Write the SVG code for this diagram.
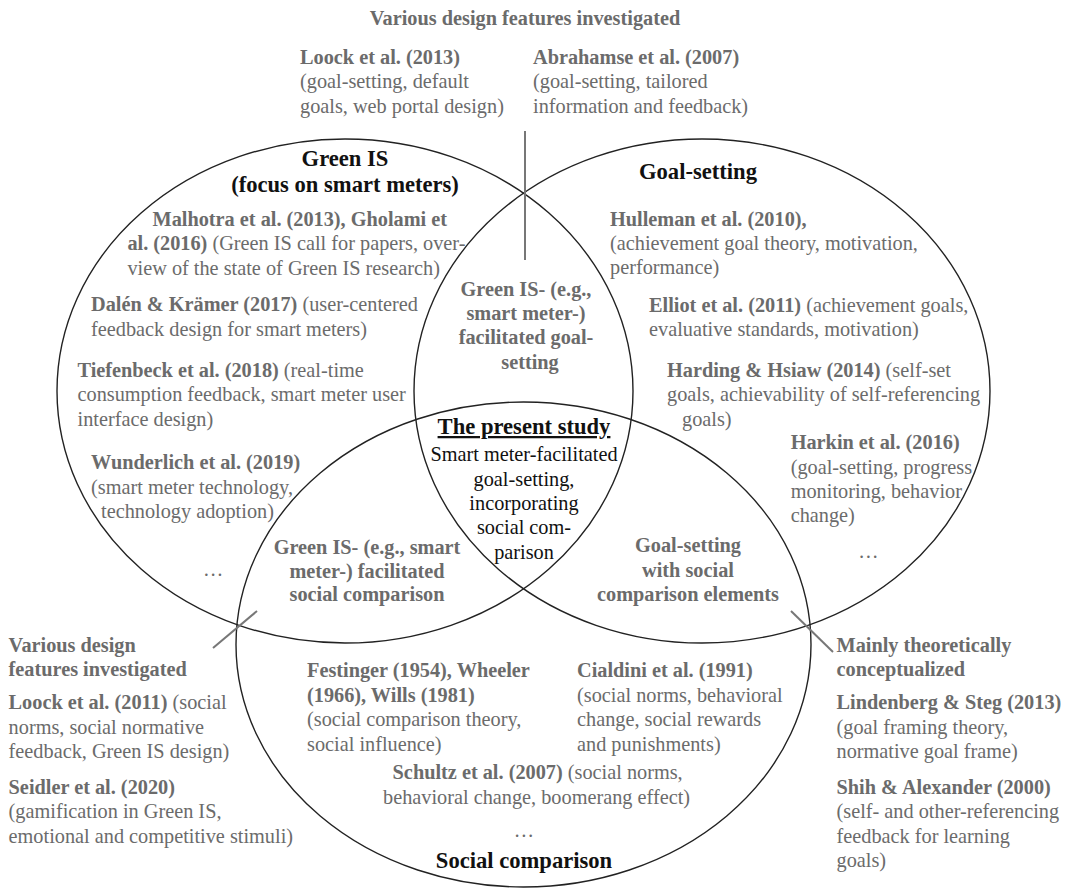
<svg xmlns="http://www.w3.org/2000/svg" width="1073" height="889" viewBox="0 0 1073 889">
<style>
text{font-family:"Liberation Serif","Times New Roman",serif;font-size:20.3px;fill:#6b6b6b}
.b{font-weight:bold}
.head{font-size:22.6px;font-weight:bold;fill:#111}
.blk{fill:#111}
.mid{text-anchor:middle}
.set{fill:none;stroke:#222;stroke-width:1.4}
.tick{stroke:#777;stroke-width:2;fill:none}
</style>
<rect width="1073" height="889" fill="#fff"/>

<g id="sets">
<ellipse id="set-green-is" class="set" cx="345" cy="391" rx="288" ry="252"/>
<ellipse id="set-goal-setting" class="set" cx="702" cy="391" rx="288" ry="252"/>
<ellipse id="set-social-comparison" class="set" cx="523.5" cy="644.5" rx="287.5" ry="242.5"/>
</g>

<g id="connectors">
<line class="tick" x1="525" y1="131" x2="525" y2="260"/>
<line class="tick" x1="213" y1="648" x2="257" y2="611"/>
<line class="tick" x1="791" y1="611" x2="833" y2="652"/>
</g>

<g id="top-features">
<text class="b mid" x="525" y="25">Various design features investigated</text>
<text x="300" y="63.5" class="b">Loock et al. (2013)</text>
<text x="300" y="88">(goal-setting, default</text>
<text x="300" y="112.5">goals, web portal design)</text>
<text x="533" y="63.5" class="b">Abrahamse et al. (2007)</text>
<text x="533" y="88">(goal-setting, tailored</text>
<text x="533" y="112.5">information and feedback)</text>
</g>

<g id="green-is">
<text class="head mid" x="345" y="166">Green IS</text>
<text class="head mid" x="345" y="192">(focus on smart meters)</text>
<text x="152.5" y="225.5" class="b">Malhotra et al. (2013), Gholami et</text>
<text x="127.4" y="250"><tspan class="b">al. (2016)</tspan> (Green IS call for papers, over-</text>
<text x="127.4" y="274.5">view of the state of Green IS research)</text>
<text x="91" y="311"><tspan class="b">Dalén &amp; Krämer (2017)</tspan> (user-centered</text>
<text x="91" y="335.5">feedback design for smart meters)</text>
<text x="77.5" y="377"><tspan class="b">Tiefenbeck et al. (2018)</tspan> (real-time</text>
<text x="77.5" y="401">consumption feedback, smart meter user</text>
<text x="77.5" y="425.5">interface design)</text>
<text x="91" y="469" class="b">Wunderlich et al. (2019)</text>
<text x="91" y="493.5">(smart meter technology,</text>
<text x="101" y="517.5">technology adoption)</text>
<text x="203" y="576">…</text>
</g>

<g id="green-is-goal-setting">
<text class="b mid" x="526" y="295.5">Green IS- (e.g.,</text>
<text class="b mid" x="526" y="320">smart meter-)</text>
<text class="b mid" x="526" y="344">facilitated goal-</text>
<text class="b mid" x="530" y="368.5">setting</text>
</g>

<g id="goal-setting">
<text class="head mid" x="698" y="179">Goal-setting</text>
<text x="610" y="225.5" class="b">Hulleman et al. (2010),</text>
<text x="610" y="249.5">(achievement goal theory, motivation,</text>
<text x="610" y="274">performance)</text>
<text x="649" y="311.5"><tspan class="b">Elliot et al. (2011)</tspan> (achievement goals,</text>
<text x="649" y="335.5">evaluative standards, motivation)</text>
<text x="667" y="377"><tspan class="b">Harding &amp; Hsiaw (2014)</tspan> (self-set</text>
<text x="667" y="401">goals, achievability of self-referencing</text>
<text x="682" y="425.5">goals)</text>
<text x="790.7" y="449" class="b">Harkin et al. (2016)</text>
<text x="790.7" y="473.5">(goal-setting, progress</text>
<text x="790.7" y="497.5">monitoring, behavior</text>
<text x="790.7" y="522">change)</text>
<text class="mid" x="868.5" y="558">…</text>
</g>

<g id="present-study">
<text class="head mid" x="524" y="434" text-decoration="underline">The present study</text>
<text class="blk mid" x="524" y="461">Smart meter-facilitated</text>
<text class="blk mid" x="524" y="485.5">goal-setting,</text>
<text class="blk mid" x="524" y="510">incorporating</text>
<text class="blk mid" x="524" y="534">social com-</text>
<text class="blk mid" x="524" y="558.5">parison</text>
</g>

<g id="green-is-social-comparison">
<text class="b mid" x="367" y="554">Green IS- (e.g., smart</text>
<text class="b mid" x="367" y="577.5">meter-) facilitated</text>
<text class="b mid" x="367" y="601">social comparison</text>
</g>

<g id="goal-setting-social-comparison">
<text class="b mid" x="688" y="552">Goal-setting</text>
<text class="b mid" x="688" y="576.5">with social</text>
<text class="b mid" x="688" y="600.5">comparison elements</text>
</g>

<g id="social-comparison">
<text x="307" y="677" class="b">Festinger (1954), Wheeler</text>
<text x="307" y="701.5" class="b">(1966), Wills (1981)</text>
<text x="307" y="726">(social comparison theory,</text>
<text x="307" y="750.5">social influence)</text>
<text x="577" y="677" class="b">Cialdini et al. (1991)</text>
<text x="577" y="701.5">(social norms, behavioral</text>
<text x="577" y="726">change, social rewards</text>
<text x="577" y="750.5">and punishments)</text>
<text x="392.6" y="779"><tspan class="b">Schultz et al. (2007)</tspan> (social norms,</text>
<text x="383" y="803.5">behavioral change, boomerang effect)</text>
<text class="mid" x="524" y="837">…</text>
<text class="head mid" x="524" y="868">Social comparison</text>
</g>

<g id="left-features">
<text x="8.6" y="652" class="b">Various design</text>
<text x="8.6" y="676" class="b">features investigated</text>
<text x="8.6" y="709"><tspan class="b">Loock et al. (2011)</tspan> (social</text>
<text x="8.6" y="733.5">norms, social normative</text>
<text x="8.6" y="758">feedback, Green IS design)</text>
<text x="8.6" y="794" class="b">Seidler et al. (2020)</text>
<text x="8.6" y="818">(gamification in Green IS,</text>
<text x="8.6" y="842.5">emotional and competitive stimuli)</text>
</g>

<g id="right-theory">
<text x="836.5" y="652" class="b">Mainly theoretically</text>
<text x="836.5" y="676" class="b">conceptualized</text>
<text x="836.5" y="709" class="b">Lindenberg &amp; Steg (2013)</text>
<text x="836.5" y="733.5">(goal framing theory,</text>
<text x="836.5" y="758">normative goal frame)</text>
<text x="836.5" y="794" class="b">Shih &amp; Alexander (2000)</text>
<text x="836.5" y="818">(self- and other-referencing</text>
<text x="836.5" y="842.5">feedback for learning</text>
<text x="836.5" y="867">goals)</text>
</g>
</svg>
